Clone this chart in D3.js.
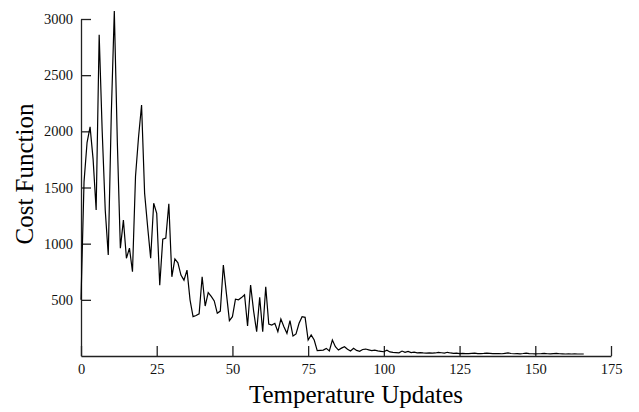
<!DOCTYPE html>
<html>
<head>
<meta charset="utf-8">
<script src="https://cdn.jsdelivr.net/npm/d3@7"></script>
<style>
  body { margin: 0; background: #fff; }
  svg { display: block; }
</style>
</head>
<body>
<svg id="chart" width="639" height="412"></svg>
<script>
// Cost function per temperature update (index = update number)
const costValues = [
  500, 1550, 1900, 2040, 1750, 1300, 2860, 2000, 1300, 900,
  2150, 3070, 1900, 960, 1210, 870, 960, 750, 1600, 1950,
  2235, 1450, 1150, 870, 1360, 1270, 630, 1040, 1050, 1355,
  705, 865, 830, 720, 675, 765, 500, 350, 360, 375,
  705, 445, 565, 530, 490, 380, 400, 810, 560, 315,
  350, 505, 500, 520, 545, 267, 632, 400, 216, 522,
  216, 617, 285, 276, 291, 216, 329, 261, 202, 314,
  178, 196, 291, 350, 344, 142, 187, 142, 47, 50,
  53, 68, 45, 142, 83, 53, 70, 83, 60, 45,
  68, 50, 42, 58, 62, 55, 48, 52, 45, 42,
  38, 52, 36, 32, 30, 28, 44, 32, 40, 30,
  34, 28, 30, 27, 26, 28, 25, 27, 32, 29,
  25, 33, 27, 24, 25, 22, 24, 22, 21, 23,
  25, 22, 21, 23, 26, 24, 22, 21, 22, 20,
  24, 27, 22, 20, 21, 19, 22, 26, 21, 20,
  19, 20, 21, 23, 20, 19, 22, 24, 20, 19,
  18, 19, 18, 19, 18, 18, 18
];
const xTicks = [0, 25, 50, 75, 100, 125, 150, 175];
const yTicks = [500, 1000, 1500, 2000, 2500, 3000];
const xLabel = "Temperature Updates";
const yLabel = "Cost Function";

const svg = d3.select("#chart");
const fontFamily = "'Liberation Serif', 'Times New Roman', serif";

const xScale = d3.scaleLinear().domain([0, 175]).range([81, 611]);
const yScale = d3.scaleLinear().domain([0, 3000]).range([356, 19]);

// x axis, ticks pointing up into the plot
const xAxis = d3.axisBottom(xScale)
  .tickValues(xTicks)
  .tickFormat(d3.format("d"))
  .tickSizeInner(-10)
  .tickSizeOuter(0)
  .tickPadding(8);

svg.append("g")
  .attr("class", "x-axis")
  .attr("transform", `translate(0,${yScale(0)})`)
  .call(xAxis);

// y axis, ticks pointing right into the plot
const yAxis = d3.axisLeft(yScale)
  .tickValues(yTicks)
  .tickFormat(d3.format("d"))
  .tickSizeInner(-10)
  .tickSizeOuter(0)
  .tickPadding(8);

svg.append("g")
  .attr("class", "y-axis")
  .attr("transform", `translate(${xScale(0)},0)`)
  .call(yAxis);

svg.selectAll(".x-axis, .y-axis")
  .selectAll("path, line")
  .attr("stroke", "#222")
  .attr("stroke-width", 1.3);

svg.selectAll(".x-axis text, .y-axis text")
  .attr("fill", "#111")
  .style("font-family", fontFamily)
  .style("font-size", "14.5px");

// cost curve
const line = d3.line()
  .x((d, i) => xScale(i))
  .y(d => yScale(d));

svg.append("path")
  .datum(costValues)
  .attr("d", line)
  .attr("fill", "none")
  .attr("stroke", "#000")
  .attr("stroke-width", 1.2)
  .attr("stroke-linejoin", "miter");

// axis titles
svg.append("text")
  .attr("x", 356)
  .attr("y", 403)
  .attr("text-anchor", "middle")
  .style("font-family", fontFamily)
  .style("font-size", "25px")
  .text(xLabel);

svg.append("text")
  .attr("transform", "translate(33,174) rotate(-90)")
  .attr("text-anchor", "middle")
  .style("font-family", fontFamily)
  .style("font-size", "25px")
  .text(yLabel);
</script>
</body>
</html>
